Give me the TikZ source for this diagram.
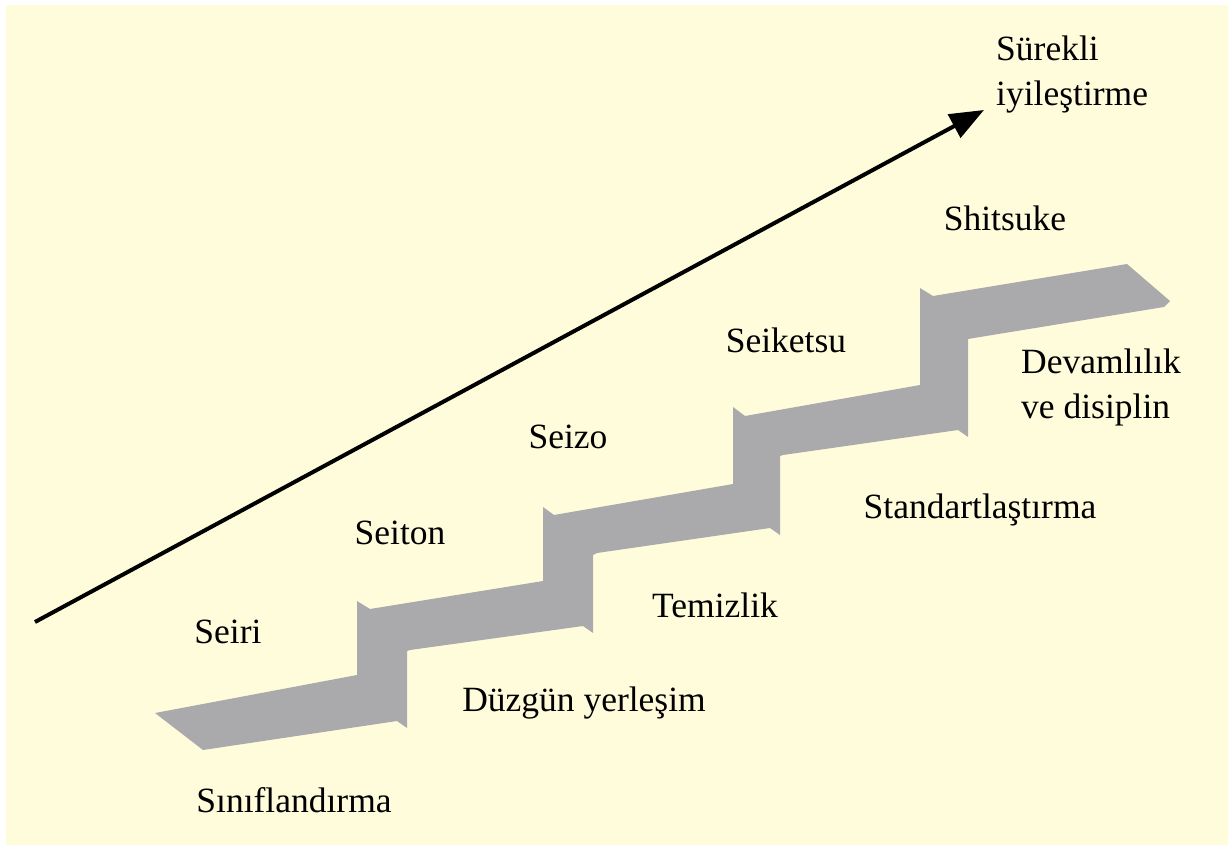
\documentclass[tikz,border=0pt]{standalone}
\usepackage{fontspec}
\setmainfont{Liberation Serif}
\usetikzlibrary{arrows.meta}
\definecolor{bgcream}{RGB}{255,252,220}
\definecolor{stairgray}{RGB}{170,170,172}
\tikzset{
  lbl/.style={font=\fontsize{35.5}{45}\selectfont, text=black, inner sep=0pt},
  lbll/.style={lbl, align=left, anchor=west},
  progress/.style={line width=4pt, -{Triangle[length=34pt,width=26pt]}},
}
\begin{document}
\begin{tikzpicture}[x=1pt,y=-1pt]
\useasboundingbox (0,0) rectangle (1228,845);
\fill[white] (0,0) rectangle (1228,845);
\fill[bgcream] (6,5) rectangle (1228,845);
% staircase
\fill[stairgray] (155,713) -- (357,675) -- (357,601) -- (370,609) -- (543,581)
  -- (543,507) -- (554,515) -- (733,484) -- (733,407) -- (745,416) -- (920,385)
  -- (920,288) -- (933,296) -- (1127,264) -- (1170,301) -- (1164,307)
  -- (980,337) -- (968,339) -- (968,437) -- (958,430) -- (783,455) -- (780,456)
  -- (780,535) -- (770,528) -- (597,553) -- (593,555) -- (593,633) -- (583,626)
  -- (410,650) -- (407,651) -- (407,728) -- (397,721) -- (203,750) -- cycle;
% arrow
\coordinate (astart) at (35,622);
\coordinate (aend) at (984,110);
\draw[progress] (astart) -- (aend);
% labels
\node[lbll] (surekli) at (996,75) {Sürekli\\iyileştirme};
\node[lbl] (shitsuke) at (1005,218) {Shitsuke};
\node[lbl] (seiketsu) at (786,340) {Seiketsu};
\node[lbll] (devam) at (1021,387) {Devamlılık\\ve disiplin};
\node[lbl] (seizo) at (568,437) {Seizo};
\node[lbl] (standart) at (980,510) {Standartlaştırma};
\node[lbl] (seiton) at (400,533) {Seiton};
\node[lbl] (temizlik) at (715,605) {Temizlik};
\node[lbl] (seiri) at (228,632) {Seiri};
\node[lbl] (duzgun) at (584,703) {Düzgün yerleşim};
\node[lbl] (sinif) at (294,800) {Sınıflandırma};
\end{tikzpicture}
\end{document}
